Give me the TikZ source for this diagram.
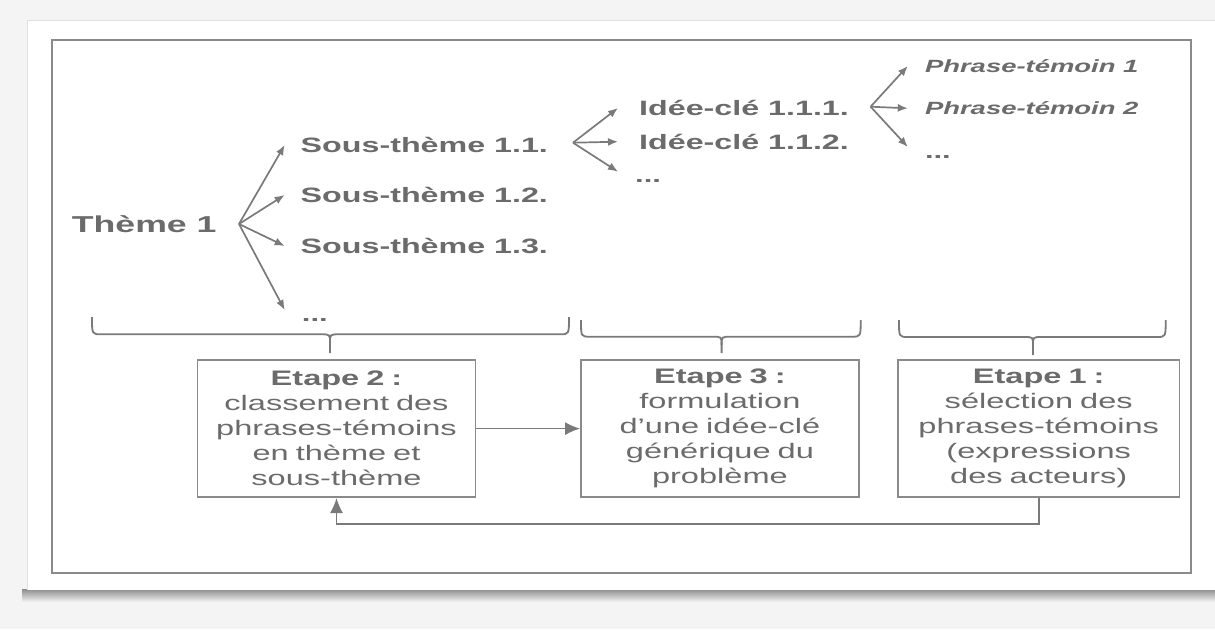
\documentclass[tikz,border=0pt]{standalone}
\usepackage{fontspec}
\setmainfont{Liberation Sans}[FakeStretch=1.55]
\usetikzlibrary{arrows.meta}
\definecolor{txt}{HTML}{6B6B6B}
\definecolor{ln}{HTML}{7A7A7A}
\definecolor{frm}{HTML}{8A8A8A}
\definecolor{bg}{HTML}{F4F4F4}
\begin{document}
\begin{tikzpicture}[x=1pt,y=-1pt,
  arr/.style={draw=ln, line width=1.7pt, -{Latex[length=10pt,width=8pt]}},
  bigarr/.style={draw=ln, line width=1.7pt, -{Latex[length=15pt,width=13pt]}},
  brace/.style={draw=ln, line width=1.8pt},
  lbl/.style={anchor=west, inner ysep=0pt, text height=15pt, text depth=0pt, text=txt,
    font=\bfseries\fontsize{20.8}{25}\selectfont},
  dots/.style={anchor=west, inner ysep=0pt, text height=22pt, text depth=0pt, text=txt,
    font=\bfseries\fontsize{20}{25}\selectfont},
  phr/.style={anchor=west, inner ysep=0pt, text height=13pt, text depth=0pt, text=txt,
    font=\bfseries\itshape\fontsize{17.7}{22}\selectfont},
  stepbox/.style={draw=frm, line width=1.8pt, minimum height=137pt, inner sep=0pt,
    text width=265pt, align=center, text=txt, font=\fontsize{21}{25}\selectfont}
]
\useasboundingbox (0,0) rectangle (1215,629);
% background and panel
\fill[bg] (0,0) rectangle (1215,629);
\shade[top color=black!45, bottom color=bg] (22,589) rectangle (1215,602);
\fill[white] (27,20) rectangle (1215,590);
\draw[black!12, line width=1pt] (27,590) -- (27,20) -- (1215,20);
\draw[frm, line width=1.8pt] (52,40) rectangle (1191,573);

% level 1
\node[lbl, anchor=west, text height=16.5pt, font=\bfseries\fontsize{23}{28}\selectfont, inner xsep=0pt] (th) at (71.7,224.5) {Thème 1};
\coordinate (f1) at (239,224);
\node[lbl, inner xsep=15.8pt] (s11) at (284.7,145) {Sous-thème 1.1.};
\node[lbl, inner xsep=15.8pt] (s12) at (284.7,195) {Sous-thème 1.2.};
\node[lbl, inner xsep=15.8pt] (s13) at (284.7,246) {Sous-thème 1.3.};
\node[dots, inner xsep=17pt] (s1d) at (284.7,310) {...};
\foreach \n in {s11,s12,s13,s1d} \draw[arr] (f1) -- (\n.west);

% level 2
\coordinate (f2) at (573,142.7);
\node[lbl, inner xsep=21pt] (i1) at (618,108) {Idée-clé 1.1.1.};
\node[lbl, inner xsep=21pt] (i2) at (618,141.7) {Idée-clé 1.1.2.};
\node[dots, inner xsep=17pt] (i3) at (618,171.7) {...};
\foreach \n in {i1,i2,i3} \draw[arr] (f2) -- (\n.west);

% level 3
\coordinate (f3) at (870.6,106.7);
\node[phr, inner xsep=17pt] (p1) at (907.8,66) {Phrase-témoin 1};
\node[phr, inner xsep=17pt] (p2) at (907.8,108.3) {Phrase-témoin 2};
\node[dots, inner xsep=17pt] (p3) at (907.8,147) {...};
\foreach \n in {p1,p2,p3} \draw[arr] (f3) -- (\n.west);

% braces
\draw[brace] (92,317) .. controls (92,334.3) .. (101,334.3) -- (321,334.3)
  .. controls (330,334.3) .. (330,343) -- (330,353);
\draw[brace] (569,317) .. controls (569,334.3) .. (560,334.3) -- (339,334.3)
  .. controls (330,334.3) .. (330,343);
\draw[brace] (581,320) .. controls (581,336.7) .. (590,336.7) -- (712.6,336.7)
  .. controls (721.6,336.7) .. (721.6,345) -- (721.6,353);
\draw[brace] (860.7,320) .. controls (860.7,336.7) .. (851.7,336.7) -- (730.6,336.7)
  .. controls (721.6,336.7) .. (721.6,345);
\draw[brace] (899,320) .. controls (899,337) .. (908,337) -- (1024,337)
  .. controls (1033,337) .. (1033,345) -- (1033,355);
\draw[brace] (1165.7,320) .. controls (1165.7,337) .. (1156.7,337) -- (1042,337)
  .. controls (1033,337) .. (1033,345);

% step boxes
\node[stepbox, minimum width=278pt] (e2) at (336.5,428.6)
  {\textbf{Etape 2 :}\\classement des\\phrases-témoins\\en thème et\\sous-thème};
\node[stepbox, minimum width=277.7pt] (e3) at (719.9,428.6)
  {\textbf{Etape 3 :}\\formulation\\d'une idée-clé\\générique du\\problème};
\node[stepbox, minimum width=281.5pt] (e1) at (1038.7,428.6)
  {\textbf{Etape 1 :}\\sélection des\\phrases-témoins\\(expressions\\des acteurs)};

\draw[bigarr] (e2.east) -- (e3.west);
\draw[bigarr] (e1.south) -- ++(0,26.3) -| (e2.south);
\end{tikzpicture}
\end{document}
